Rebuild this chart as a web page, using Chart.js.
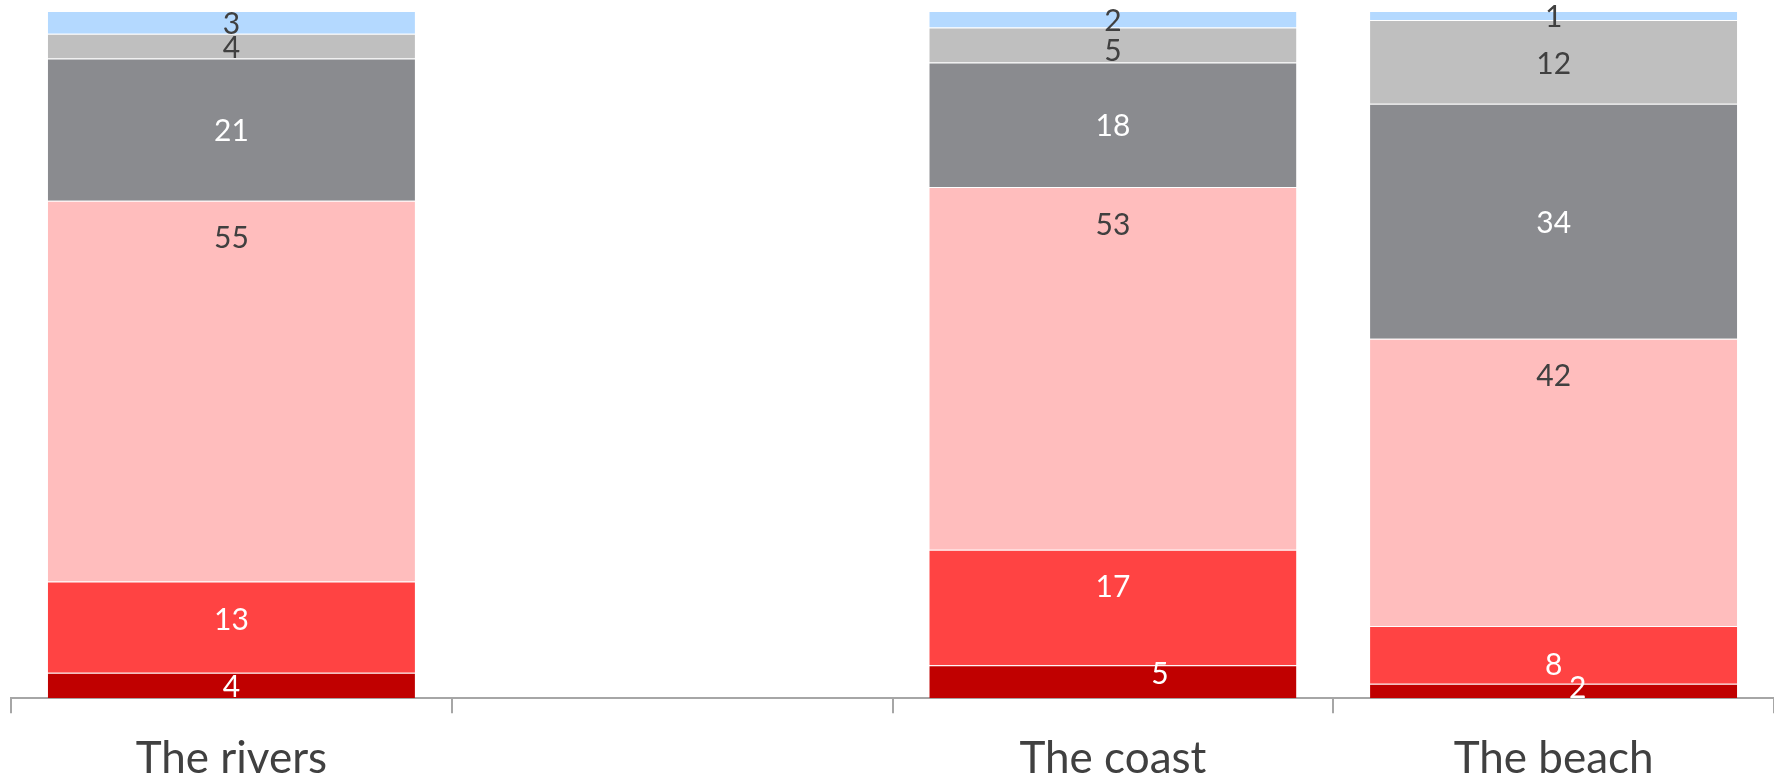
<!DOCTYPE html>
<html>
<head>
<meta charset="utf-8">
<script src="https://cdn.jsdelivr.net/npm/chart.js@4"></script>
<style>
  html, body { margin: 0; padding: 0; background: #fff; overflow: hidden; }
  #wrap { width: 1774px; height: 805px; position: relative; }
</style>
</head>
<body>
<div id="wrap"><canvas id="myChart"></canvas></div>
<script>
// categorías (la segunda columna está vacía)
var categories = ['The rivers', '', 'The coast', 'The beach'];

// porcentajes de cada tramo, de abajo hacia arriba
var darkRed   = [3.7, null, 4.8, 2.1];
var red       = [13.3, null, 16.8, 8.4];
var pink      = [55.4, null, 52.8, 41.8];
var darkGray  = [20.7, null, 18.1, 34.2];
var lightGray = [3.6, null, 5.1, 12.2];
var lightBlue = [3.3, null, 2.4, 1.3];

// desplazamientos manuales de algunas etiquetas (dataset-indice: [dx, dy])
var labelShift = {
    '0-2': [47, -9],
    '0-3': [24, -5],
    '1-0': [0, -9],
    '1-2': [0, -22],
    '1-3': [0, 8],
    '4-2': [0, 4]
};

var valueLabels = {
    id: 'valueLabels',
    afterDatasetsDraw: function(chart) {
        var ctx = chart.ctx;
        ctx.save();
        ctx.font = '30px Lato';
        ctx.textAlign = 'center';
        ctx.textBaseline = 'middle';
        chart.data.datasets.forEach(function(ds, di) {
            var meta = chart.getDatasetMeta(di);
            meta.data.forEach(function(el, i) {
                var v = ds.data[i];
                if (v === null || v === undefined) return;
                var x = el.x;
                var y = ds.labelTop ? el.y + 38 : (el.y + el.base) / 2 + 2;
                var s = labelShift[di + '-' + i];
                if (s) { x += s[0]; y += s[1]; }
                ctx.fillStyle = ds.labelColor;
                ctx.fillText(Math.round(v), x, y);
            });
        });
        ctx.restore();
    }
};

var ctx = document.getElementById('myChart').getContext('2d');

function serie(nombre, datos, color, colorTexto, arriba) {
    return {
        label: nombre,
        data: datos,
        backgroundColor: color,
        borderColor: 'rgba(255,255,255,0.3)',
        borderWidth: { top: 1, bottom: 0, left: 0, right: 0 },
        borderSkipped: false,
        labelColor: colorTexto,
        labelTop: arriba
    };
}

var myChart = new Chart(ctx, {
    type: 'bar',
    data: {
        labels: categories,
        datasets: [
            serie('Dark red', darkRed, '#C00000', '#ffffff'),
            serie('Red', red, '#FF4343', '#ffffff'),
            serie('Pink', pink, '#FFBDBD', '#404040', true),
            serie('Dark gray', darkGray, '#8A8B8F', '#ffffff'),
            serie('Light gray', lightGray, '#BFBFBF', '#404040'),
            serie('Light blue', lightBlue, '#B4D9FF', '#404040')
        ]
    },
    options: {
        responsive: true,
        maintainAspectRatio: false,
        animation: false,
        layout: { padding: { left: 11, top: 11, right: 0, bottom: 0 } },
        categoryPercentage: 0.833,
        barPercentage: 1,
        plugins: {
            legend: { display: false },
            tooltip: { enabled: false }
        },
        scales: {
            x: {
                stacked: true,
                offset: true,
                grid: {
                    offset: true,
                    drawOnChartArea: false,
                    drawTicks: true,
                    tickLength: 15,
                    color: '#a6a6a6',
                    lineWidth: 2
                },
                border: { display: true, color: '#a6a6a6', width: 2 },
                ticks: {
                    color: '#404040',
                    font: { family: 'Lato', size: 44, lineHeight: 1.2 },
                    padding: 19.5
                }
            },
            y: {
                stacked: true,
                display: false,
                min: 0,
                max: 100
            }
        }
    },
    plugins: [valueLabels]
});
</script>
</body>
</html>
